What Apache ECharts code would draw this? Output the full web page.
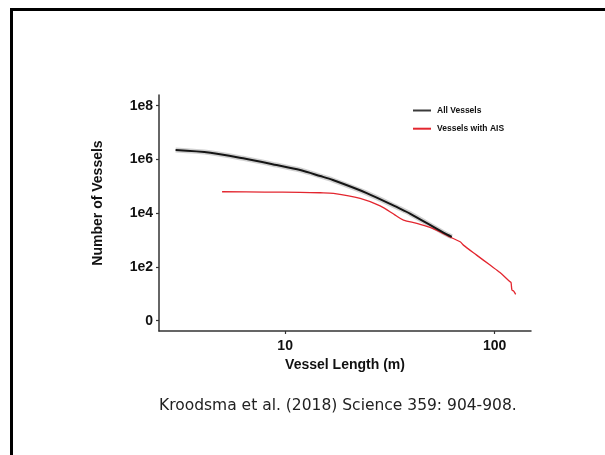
<!DOCTYPE html>
<html><head><meta charset="utf-8">
<script src="https://cdn.jsdelivr.net/npm/echarts@6/dist/echarts.min.js"></script>
<style>
html,body{margin:0;padding:0;background:#fff;overflow:hidden}
#c{width:605px;height:455px;position:absolute;left:0;top:0}
#frame{position:absolute;left:10px;top:8px;width:600px;height:460px;border-top:3px solid #000;border-left:3px solid #000;pointer-events:none}
</style>
</head><body><div id="c"></div><div id="frame"></div>
<script>
// Vessel length (m) and number of vessels (cumulative)
const allLen   = [3.0, 4.4, 6.3, 9.1, 11.8, 14.7, 16.9, 24.5, 35.3, 39.4, 56.9, 62.4];
const allCount = [2.24e6, 1.78e6, 1.10e6, 6.18e5, 4.03e5, 2.41e5, 1.71e5, 5.6e4, 1.48e4, 9.7e3, 1.89e3, 1.32e3];
const aisLen   = [5.0, 8.0, 11.8, 14.7, 17.0, 22.8, 28.4, 33.5, 36.7, 42.5, 49.1, 54.8, 60.5, 68.4, 70.9, 82, 95, 106, 118, 119.6, 120.9, 123.2, 125.9];
const aisCount = [6.27e4, 6.1e4, 5.95e4, 5.75e4, 5.46e4, 3.56e4, 1.87e4, 8.5e3, 5.55e3, 4.17e3, 2.96e3, 2.03e3, 1.35e3, 861, 648, 275, 117, 62, 28.5, 26.5, 13.7, 12.6, 9.5];
const seriesNames = ['All Vessels', 'Vessels with AIS'];
const yTickValues = [1, 100, 1e4, 1e6, 1e8];
const yTickLabels = ['0', '1e2', '1e4', '1e6', '1e8'];
const xTickValues = [10, 100];
const xTickLabels = ['10', '100'];
const citation = 'Kroodsma et al. (2018) Science 359: 904-908.';

const zip = (a, b) => a.map((v, i) => [v, b[i]]);
const labelFor = (vals, labs) => v => {
  for (let i = 0; i < vals.length; i++) if (Math.abs(Math.log10(v) - Math.log10(vals[i])) < 1e-6) return labs[i];
  return '';
};
const bold = {fontFamily: 'Liberation Sans, Arial, sans-serif', fontWeight: 'bold', fontSize: 14, color: '#111'};

const chart = echarts.init(document.getElementById('c'), null, {renderer: 'canvas'});
chart.setOption({
  animation: false,
  backgroundColor: '#fff',
  title: {
    text: citation, left: 154, top: 393,
    textStyle: {fontFamily: 'DejaVu Sans, Verdana, sans-serif', fontWeight: 'normal', fontSize: 15.5, color: '#222'}
  },
  legend: {
    data: seriesNames, orient: 'vertical', left: 408, top: 101,
    icon: 'rect', itemWidth: 18, itemHeight: 2, itemGap: 9.2,
    textStyle: {fontFamily: 'Liberation Sans, Arial, sans-serif', fontWeight: 'bold', fontSize: 8.5, color: '#111', padding: [0, 0, 0, 1]}
  },
  grid: {left: 159, right: 74, top: 95, bottom: 124, containLabel: false},
  xAxis: {
    type: 'log', logBase: 10, min: 2.5, max: 149,
    name: 'Vessel Length (m)', nameLocation: 'middle', nameGap: 26,
    nameTextStyle: bold,
    axisLine: {lineStyle: {color: '#333', width: 1.5}},
    axisTick: {show: true, length: 3, customValues: xTickValues, lineStyle: {color: '#333', width: 1.2}},
    axisLabel: {customValues: xTickValues, formatter: labelFor(xTickValues, xTickLabels), margin: 8, ...bold},
    splitLine: {show: false}, minorTick: {show: false}
  },
  yAxis: {
    type: 'log', logBase: 10, min: 0.413, max: 2.5e8,
    name: 'Number of Vessels', nameLocation: 'middle', nameGap: 54,
    nameTextStyle: Object.assign({}, bold, {padding: [0, 0, 0, 20]}),
    axisLine: {lineStyle: {color: '#333', width: 1.5}},
    axisTick: {show: true, length: 3, customValues: yTickValues, lineStyle: {color: '#333', width: 1.2}},
    axisLabel: {customValues: yTickValues, formatter: labelFor(yTickValues, yTickLabels), margin: 6, ...bold},
    splitLine: {show: false}, minorTick: {show: false}
  },
  series: [
    {
      name: 'band', type: 'line', data: zip(allLen, allCount), symbol: 'none', smooth: 0.3,
      lineStyle: {color: 'rgba(140,140,140,0.4)', width: 5}, silent: true, z: 1
    },
    {
      name: seriesNames[0], type: 'line', data: zip(allLen, allCount), symbol: 'none', smooth: 0.3,
      itemStyle: {color: '#3a3a3a'}, lineStyle: {color: '#151515', width: 2}, z: 3
    },
    {
      name: seriesNames[1], type: 'line', data: zip(aisLen, aisCount), symbol: 'none', smooth: 0.3,
      itemStyle: {color: '#e3262f'}, lineStyle: {color: '#e3262f', width: 1.3}, z: 2
    }
  ]
});
</script>
</body></html>
